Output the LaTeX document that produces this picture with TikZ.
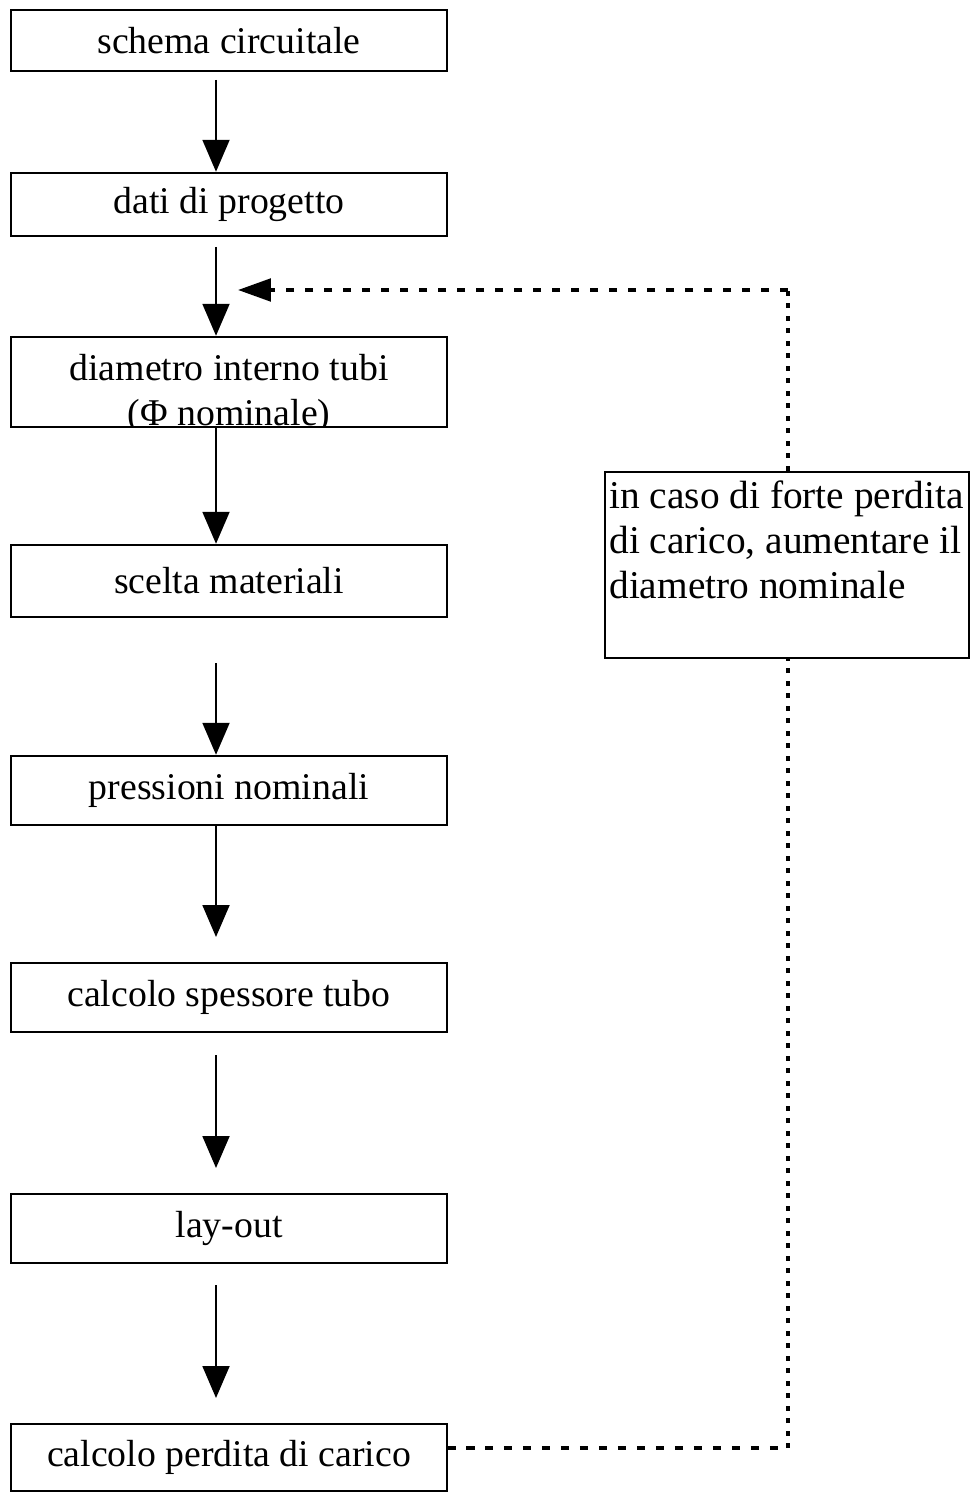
\documentclass[tikz,border=0pt]{standalone}
\usepackage{fontspec}
\setmainfont{Liberation Serif}
\usetikzlibrary{arrows.meta}
\begin{document}
\begin{tikzpicture}[x=0.02cm,y=-0.02cm,
  box/.style={draw, line width=1.4pt, minimum width=8.72cm, inner sep=0pt, font=\fontsize{21.5}{25.6}\selectfont},
  lbl/.style={inner sep=0pt, font=\fontsize{21.5}{25.6}\selectfont},
  slbl/.style={inner sep=0pt, font=\fontsize{22.4}{25.6}\selectfont},
  arr/.style={line width=1.1pt, -{Triangle[width=0.54cm,length=0.64cm]}},
  doth/.style={line width=2.2pt, dash pattern=on 0.17cm off 0.21cm},
  dotv/.style={line width=2.2pt, dash pattern=on 0.1cm off 0.15cm}]
\useasboundingbox (0,0) rectangle (971,1493);
% main boxes
\node[box, minimum height=1.22cm] (b1) at (229,40.5) {schema circuitale};
\node[box, minimum height=1.26cm] (b2) at (229,204.5) {dati di progetto};
\begin{scope}
  \clip (11,337) rectangle (447,427);
  \node[lbl, anchor=base] (b3a) at (229,380) {diametro interno tubi};
  \node[lbl, anchor=base] (b3b) at (229,425) {(Φ nominale)};
\end{scope}
\node[box, minimum height=1.80cm] (b3) at (229,382) {};
\node[box, minimum height=1.44cm] (b4) at (229,581) {scelta materiali};
\node[box, minimum height=1.38cm] (b5) at (229,790.5) {pressioni nominali};
\node[box, minimum height=1.38cm] (b6) at (229,997.5) {calcolo spessore tubo};
\node[box, minimum height=1.38cm] (b7) at (229,1228.5) {lay-out};
\node[box, minimum height=1.34cm] (b8) at (229,1457.5) {calcolo perdita di carico};
% side box
\node[draw, line width=1.6pt, minimum width=7.28cm, minimum height=3.72cm, inner sep=0pt] (side) at (787,565) {};
\node[slbl, anchor=base west] (s1) at (609,508) {in caso di forte perdita};
\node[slbl, anchor=base west] (s2) at (609,553) {di carico, aumentare il};
\node[slbl, anchor=base west] (s3) at (609,598) {diametro nominale};
% arrows
\coordinate (ax) at (216,0);
\coordinate (a1s) at (216,80);
\coordinate (a2s) at (216,247);
\coordinate (a4s) at (216,663);
\coordinate (a5e) at (216,937);
\coordinate (a6s) at (216,1055);
\coordinate (a6e) at (216,1168);
\coordinate (a7s) at (216,1285);
\coordinate (a7e) at (216,1398);
\draw[arr] (a1s) -- (b2.north -| ax);
\draw[arr] (a2s) -- (b3.north -| ax);
\draw[arr] (b3.south -| ax) -- (b4.north -| ax);
\draw[arr] (a4s) -- (b5.north -| ax);
\draw[arr] (b5.south -| ax) -- (a5e);
\draw[arr] (a6s) -- (a6e);
\draw[arr] (a7s) -- (a7e);
% feedback dotted
\coordinate (fb) at (447,1448);
\coordinate (c1) at (788,1448);
\coordinate (c2) at (788,290);
\coordinate (fe) at (238,290);
\draw[doth] (fb) -- (c1);
\draw[dotv] (c1) -- (side.south -| c1);
\draw[dotv] (side.north -| c2) -- (c2);
\draw[doth, -{Triangle[width=0.45cm,length=0.66cm]}] (c2) -- (fe);
\end{tikzpicture}
\end{document}
